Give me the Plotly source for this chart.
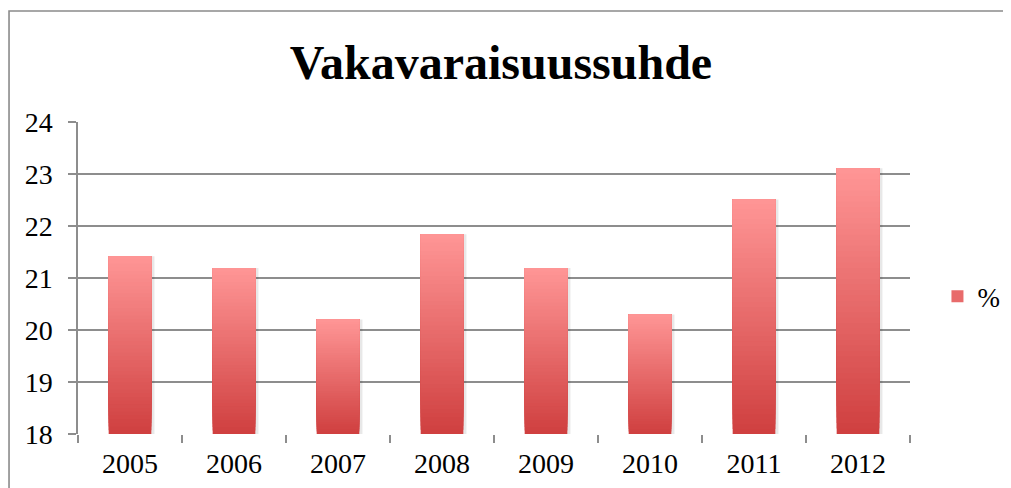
import plotly.graph_objects as go

# data
years = ["2005", "2006", "2007", "2008", "2009", "2010", "2011", "2012"]
ratio = [21.42, 21.19, 20.2, 21.84, 21.19, 20.3, 22.51, 23.11]
y_base = 18

# gradient: light at bar top, dark at bar bottom
top_rgb = (255, 150, 150)
bottom_rgb = (207, 63, 63)
n_slices = 48
bar_w = 0.41


def mix(t):
    r, g, b = (round(bottom_rgb[i] + (top_rgb[i] - bottom_rgb[i]) * t) for i in range(3))
    return f"rgb({r},{g},{b})"


fig = go.Figure()

# soft shadow on the right side of each bar
fig.add_trace(go.Bar(
    x=years,
    y=[v - y_base for v in ratio],
    base=y_base,
    width=bar_w,
    offset=-bar_w / 2 + 0.03,
    marker=dict(color="rgba(0,0,0,0.09)", line=dict(width=0)),
    showlegend=False,
    hoverinfo="skip",
))

# every slice runs from its own base to the bar top; later slices cover the
# earlier ones, so the bar gets a vertical gradient without seams
for k in range(n_slices):
    bases = [y_base + k * (v - y_base) / n_slices for v in ratio]
    fig.add_trace(go.Bar(
        x=years,
        y=[v - b for v, b in zip(ratio, bases)],
        base=bases,
        width=bar_w,
        marker=dict(color=mix((k + 0.5) / n_slices), line=dict(width=0)),
        name="%",
        showlegend=(k == n_slices // 2),
        hoverinfo="skip",
    ))

grid = "#8d8d8d"
serif = "Liberation Serif"

# the page has an 8px body margin; the figure starts there
fig.update_layout(
    width=1003,
    height=480,
    margin=dict(l=70, r=101, t=114, b=54, autoexpand=False),
    paper_bgcolor="white",
    plot_bgcolor="white",
    barmode="overlay",
    title=dict(
        text="<b>Vakavaraisuussuhde</b>",
        x=0.4915, xref="container", xanchor="center",
        y=0.888, yref="container", yanchor="middle",
        font=dict(family=serif, size=48, color="black"),
    ),
    font=dict(family=serif, size=28, color="black"),
    legend=dict(
        x=1.033, xanchor="left", y=0.44, yanchor="middle",
        font=dict(family=serif, size=27, color="black"),
        bgcolor="rgba(0,0,0,0)",
    ),
    xaxis=dict(
        type="category",
        showgrid=False,
        ticks="outside", tickson="boundaries", ticklen=8,
        tickcolor=grid, tickwidth=1.5,
        showline=False,
        ticklabelstandoff=10,
    ),
    yaxis=dict(
        range=[18, 24],
        dtick=1,
        showgrid=True, gridcolor=grid, gridwidth=1.5,
        ticks="outside", ticklen=8, tickcolor=grid, tickwidth=1.5,
        showline=True, linecolor=grid, linewidth=1.5,
        zeroline=False,
        ticklabelstandoff=10,
    ),
    shapes=[dict(
        type="rect", xref="paper", yref="paper",
        x0=-0.0829, x1=1.2, y0=-0.3, y1=1.3558,
        line=dict(color="#8a8a8a", width=1.6),
        fillcolor="rgba(0,0,0,0)", layer="below",
    )],
)

fig.write_html("out.html")
